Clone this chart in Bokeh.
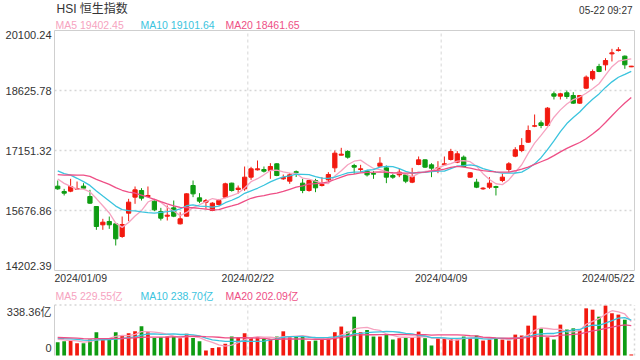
import numpy as np
from bokeh.plotting import figure
from bokeh.models import Range1d, Label, ColumnDataSource
from bokeh.embed import file_html
from bokeh.resources import INLINE

# ---------------- data ----------------
title_text = "HSI 恒生指数"
stamp_text = "05-22 09:27"
price_legend = ["MA5 19402.45", "MA10 19101.64", "MA20 18461.65"]
vol_legend = ["MA5 229.55亿", "MA10 238.70亿", "MA20 202.09亿"]
x_tick_labels = ["2024/01/09", "2024/02/22", "2024/04/09", "2024/05/22"]
price_ticks = [20100.24, 18625.78, 17151.32, 15676.86, 14202.39]
price_tick_labels = ["20100.24", "18625.78", "17151.32", "15676.86", "14202.39"]
vol_ticks = [338.36, 0]
vol_tick_labels = ["338.36亿", "0"]

opens = [16275, 16144, 16152, 16201, 16275, 16021, 15775, 15325, 15407, 15349,
         15038, 15611, 16005, 16168, 16021, 15906, 15652, 15537, 15742, 15349,
         15537, 16291, 15988, 15880, 15677, 15824, 16004, 16349, 16193, 16209,
         16496, 16676, 16684, 16660, 16824, 16455, 16398, 16630, 16349, 16168,
         16414, 16291, 16430, 16725, 17037, 17127, 16782, 16685, 16643, 16586,
         16766, 16725, 16537, 16553, 16553, 16373, 16807, 16922, 16799, 16701,
         16799, 16930, 16865, 16988, 16496, 16373, 16209, 16250, 16264, 16414,
         16684, 17012, 17152, 17356, 17750, 17831, 17766, 18544, 18487, 18569,
         18503, 18315, 18683, 18913, 19216, 19257, 19526, 19608, 19470, 19208]
highs = [16414, 16209, 16455, 16389, 16348, 16185, 15780, 15472, 15529, 15360,
         15529, 15964, 16267, 16226, 16267, 15922, 15742, 15800, 15922, 15636,
         16100, 16414, 16103, 15960, 15880, 15960, 16360, 16360, 16291, 16758,
         16750, 16905, 16758, 16840, 16840, 16561, 16600, 16660, 16455, 16430,
         16455, 16496, 16619, 17152, 17217, 17160, 16824, 16799, 16676, 16643,
         16988, 16783, 16594, 16701, 16578, 16725, 17004, 16930, 16840, 16889,
         17004, 17192, 17135, 17029, 16619, 16455, 16250, 16496, 16285, 16578,
         16865, 17233, 17455, 17766, 18036, 17889, 18216, 18601, 18569, 18626,
         18585, 18515, 18995, 19142, 19281, 19420, 19650, 19691, 19486, 19230]
lows = [16185, 16046, 16127, 16193, 16201, 15841, 15202, 15202, 15226, 14817,
        15005, 15415, 15841, 15922, 16005, 15660, 15431, 15431, 15513, 15333,
        15529, 16005, 15857, 15720, 15660, 15800, 15980, 16140, 16087, 16160,
        16430, 16660, 16610, 16455, 16520, 16430, 16332, 16500, 16103, 16140,
        16127, 16267, 16373, 16619, 17029, 16950, 16578, 16619, 16512, 16455,
        16742, 16349, 16455, 16496, 16349, 16349, 16791, 16725, 16496, 16594,
        16790, 16905, 16840, 16742, 16480, 16226, 16185, 16209, 16046, 16373,
        16619, 16987, 17110, 17340, 17725, 17700, 17750, 18405, 18405, 18421,
        18298, 18298, 18667, 18872, 19076, 19118, 19339, 19584, 19158, 19200]
closes = [16209, 16103, 16267, 16217, 16226, 15857, 15284, 15390, 15325, 14981,
          15333, 15882, 16185, 15980, 16046, 15693, 15488, 15562, 15537, 15472,
          16086, 16086, 15906, 15920, 15857, 15923, 16332, 16168, 16226, 16496,
          16701, 16701, 16643, 16758, 16537, 16488, 16553, 16610, 16168, 16414,
          16234, 16316, 16562, 17086, 17061, 16987, 16742, 16701, 16553, 16570,
          16840, 16496, 16496, 16619, 16398, 16512, 16922, 16742, 16717, 16725,
          16824, 17127, 17070, 16758, 16603, 16250, 16226, 16349, 16244, 16496,
          16824, 17168, 17275, 17643, 17758, 17766, 18192, 18487, 18544, 18478,
          18315, 18503, 18954, 19093, 19093, 19363, 19551, 19625, 19257, 19224]
volumes = [89, 96, 100, 82, 82, 107, 156, 118, 107, 156,
           134, 149, 162, 196, 156, 118, 122, 127, 127, 116,
           145, 118, 96, 33, 51, 56, 78, 127, 118, 149,
           118, 122, 111, 111, 127, 162, 122, 127, 127, 96,
           100, 118, 118, 156, 194, 160, 260, 156, 171, 127,
           127, 140, 107, 116, 122, 122, 160, 116, 67, 116,
           116, 111, 107, 127, 118, 134, 100, 107, 116, 107,
           100, 140, 134, 200, 267, 182, 122, 107, 207, 174,
           182, 167, 316, 307, 260, 334, 283, 274, 240, 7]
# sessions before the first visible one (only their effect on the MA lines is visible)
prior_closes = [16334, 16201, 16374, 16229, 16402, 16792, 16629, 16506, 16613, 16622,
                16793, 16625, 16986, 17047, 16789, 16646, 16645, 16535, 16224]
prior_volumes = [125, 130, 118, 135, 140, 120, 115, 110, 125, 130,
                 128, 120, 115, 135, 120, 120, 110, 105, 120]
ma_windows = [5, 10, 20]

# ---------------- styling / layout ----------------
W, H = 640, 360
RED = "#f2190f"
GREEN = "#0e9c12"
MA_COLORS = ["#f6a3c0", "#3bc4de", "#ee4f86"]
TXT = "#333333"
BORDER = "#cfcfcf"
GRID = "#d6d6d6"
FONT = "'Liberation Sans', Arial, 'Noto Sans CJK SC', sans-serif"

n = len(closes)
xs = np.arange(n)
up = [c >= o for o, c in zip(opens, closes)]
colors = [RED if u else GREEN for u in up]

X0, X1 = -0.5, n - 0.5          # data extent of the plot areas
LEFT, RIGHT = 54, 634           # pixel extent of the plot areas
P_TOP, P_BOT = 30, 270          # price area, pixels
V_TOP, V_BOT = 304.5, 355       # volume area, pixels
pmin, pmax = price_ticks[-1], price_ticks[0]
vmax = vol_ticks[0]


def xd(px):
    return X0 + (px - LEFT) * (X1 - X0) / (RIGHT - LEFT)


def yd(py):
    return pmax - (py - P_TOP) * (pmax - pmin) / (P_BOT - P_TOP)


def vd(py):
    return (V_BOT - py) * vmax / (V_BOT - V_TOP)


def moving(prior, vals, w):
    full = np.array(list(prior) + list(vals), dtype=float)
    out = np.convolve(full, np.ones(w) / w, mode="valid")
    return out[-len(vals):]


src = ColumnDataSource(dict(
    x=xs, h=highs, l=lows,
    top=[max(a, b) for a, b in zip(opens, closes)],
    bot=[min(a, b) for a, b in zip(opens, closes)],
    vol=volumes, color=colors,
))

p = figure(width=W, height=H, output_backend="svg", toolbar_location=None,
           x_axis_location=None, y_axis_location=None,
           x_range=Range1d(xd(0), xd(W)), y_range=Range1d(yd(H), yd(0)),
           min_border=0, min_border_left=0, min_border_right=0,
           min_border_top=0, min_border_bottom=0,
           background_fill_color="white", border_fill_color="white",
           outline_line_color=None)
p.extra_y_ranges = {"vol": Range1d(vd(H), vd(0))}
p.xgrid.visible = False
p.ygrid.visible = False

# ----- price area frame and grid
mid = price_ticks[1:-1]
p.segment(x0=[X0] * len(mid), y0=mid, x1=[X1] * len(mid), y1=mid,
          line_color=GRID, line_dash="2 3", line_width=1.5)
vx = [X0 + k * (X1 - X0) / 3 for k in (1, 2)]
p.segment(x0=vx, y0=[pmin] * 2, x1=vx, y1=[pmax] * 2,
          line_color=GRID, line_dash="3 3", line_width=1)
p.quad(left=[X0], right=[X1], bottom=[pmin], top=[pmax],
       fill_color=None, line_color=BORDER, line_width=1)

# ----- candles
p.segment(x0="x", y0="l", x1="x", y1="h", color="color", line_width=1, source=src)
p.vbar(x="x", top="top", bottom="bot", width=0.66, fill_color="color",
       line_color="color", line_width=1, source=src)
for w, col in zip(ma_windows, MA_COLORS):
    p.line(xs, moving(prior_closes, closes, w), line_color=col, line_width=1.3)

# ----- volume area frame and grid
p.segment(x0=[X0], y0=[vmax], x1=[X1], y1=[vmax], line_color=GRID,
          line_dash="2 3", line_width=1.5, y_range_name="vol")
p.segment(x0=[X1], y0=[0], x1=[X1], y1=[vmax], line_color=GRID,
          line_dash="2 3", line_width=1.5, y_range_name="vol")
p.segment(x0=vx, y0=[0] * 2, x1=vx, y1=[vmax] * 2, line_color=GRID,
          line_dash="3 3", line_width=1, y_range_name="vol")
p.segment(x0=[X0], y0=[0], x1=[X0], y1=[vmax], line_color=BORDER,
          line_width=1, y_range_name="vol")

p.vbar(x="x", top="vol", bottom=0, width=0.58, fill_color="color", line_color=None,
       source=src, y_range_name="vol")
for w, col in zip(ma_windows, MA_COLORS):
    p.line(xs, moving(prior_volumes, volumes, w), line_color=col, line_width=1.3,
           y_range_name="vol")

# ----- texts
def label(px, py, txt, size, color=TXT, align="left", base="middle"):
    p.add_layout(Label(x=xd(px), y=yd(py), text=txt, text_font=FONT,
                       text_font_size=size, text_color=color,
                       text_align=align, text_baseline=base))


label(56, 8.5, title_text, "12px")
label(632, 10, stamp_text, "10px", align="right")
for k, (txt, col) in enumerate(zip(price_legend, MA_COLORS)):
    label(55 + 85 * k, 24.5, txt, "10.5px", color=col)
for k, lab in enumerate(price_tick_labels):
    py = P_TOP + k * (P_BOT - P_TOP) / (len(price_tick_labels) - 1)
    py = min(max(py, P_TOP + 4.5), P_BOT - 5)
    label(51, py, lab, "11px", align="right")
for k, lab in enumerate(x_tick_labels):
    align = "left" if k == 0 else ("right" if k == 3 else "center")
    px = LEFT + k * (RIGHT - LEFT) / 3
    label(px, 277.5, lab, "10.5px", align=align)
for k, (txt, col) in enumerate(zip(vol_legend, MA_COLORS)):
    label(55 + 85 * k, 295.5, txt, "10.5px", color=col)
label(51, 311, vol_tick_labels[0], "11px", align="right")
label(51, 347.7, vol_tick_labels[1], "11px", align="right")

open("out.html", "w").write(file_html(p, INLINE))
